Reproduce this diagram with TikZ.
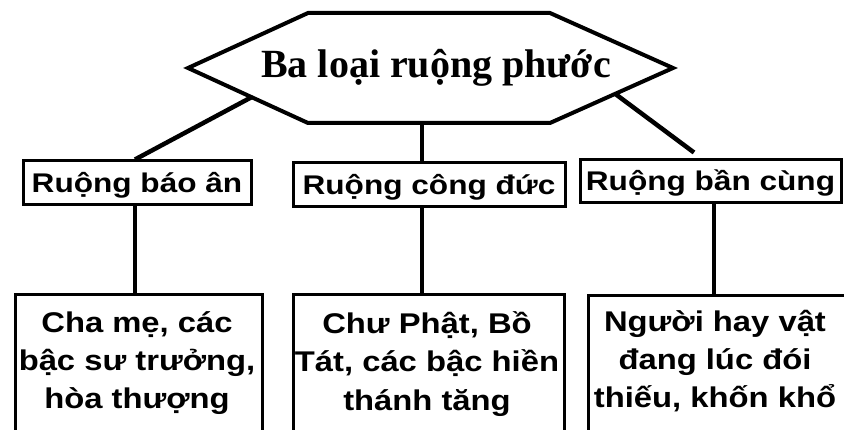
\documentclass[tikz,border=0pt]{standalone}
\usepackage{fontspec}
\setmainfont{Liberation Serif}
\newfontfamily\boxfontA[FakeStretch=1.17]{Liberation Sans}
\newfontfamily\boxfontB[FakeStretch=1.15]{Liberation Sans}
\usetikzlibrary{calc}
\begin{document}
\begin{tikzpicture}[x=1pt,y=-1pt,
  hexline/.style={line width=4pt, line join=miter},
  conn/.style={line width=4.5pt},
  topbox/.style={draw, line width=3pt, inner sep=0pt, text height=19pt, text depth=0pt,
    font=\boxfontA\bfseries\fontsize{27}{30}\selectfont},
  lowbox/.style={draw, line width=3pt, inner sep=0pt, anchor=north, minimum height=220pt},
  lowtext/.style={align=center, inner sep=0pt, anchor=base,
    font=\boxfontB\bfseries\fontsize{28.5}{38.5}\selectfont},
]
\useasboundingbox (0,0) rectangle (844,430);
\clip (0,0) rectangle (844,430);
% hexagon
\coordinate (hl) at (188,68);
\coordinate (htl) at (308,13);
\coordinate (htr) at (550,13);
\coordinate (hr) at (673,68);
\coordinate (hbr) at (550,123);
\coordinate (hbl) at (308,123);
\draw[hexline] (hl) -- (htl) -- (htr) -- (hr) -- (hbr) -- (hbl) -- cycle;
\node[anchor=base, inner sep=0pt, font=\bfseries\fontsize{40}{48}\selectfont] (title) at (436,78) {Ba loại ruộng phước};
% middle boxes
\node[topbox, minimum width=228pt, minimum height=44pt] (b1) at (137,183) {Ruộng báo ân};
\node[topbox, minimum width=272pt, minimum height=44pt] (b2) at (429,185) {Ruộng công đức};
\node[topbox, minimum width=261pt, minimum height=43pt] (b3) at (710.5,181.5) {Ruộng bần cùng};
% lower boxes
\node[lowbox, minimum width=247pt] (b4) at (138.5,293) {};
\node[lowbox, minimum width=271pt] (b5) at (428.5,293) {};
\node[lowbox, minimum width=260pt] (b6) at (718,294) {};
\node[lowtext] (t4) at (137,409) {Cha mẹ, các\\bậc sư trưởng,\\hòa thượng};
\node[lowtext] (t5) at (427,410) {Chư Phật, Bồ\\Tát, các bậc hiền\\thánh tăng};
\node[lowtext] (t6) at (715,408) {Người hay vật\\đang lúc đói\\thiếu, khốn khổ};
% connectors
\coordinate (s1) at ($(hl)!0.53!(hbl)$);
\coordinate (s3) at ($(hr)!0.47!(hbr)$);
\coordinate (s2) at (422,123);
\draw[conn] (s1) -- ($(b1.north)+(-2,0)$);
\draw[conn] (s2) -- (s2 |- b2.north);
\draw[conn] (s3) -- ($(b3.north)+(-16.5,-6)$);
\draw[conn] ($(b1.south)+(-2,0)$) -- ($(b1.south |- b4.north)+(-2,0)$);
\draw[conn] (s2 |- b2.south) -- (s2 |- b5.north);
\draw[conn] ($(b3.south)+(3.5,0)$) -- ($(b3.south |- b6.north)+(3.5,0)$);
\end{tikzpicture}
\end{document}
